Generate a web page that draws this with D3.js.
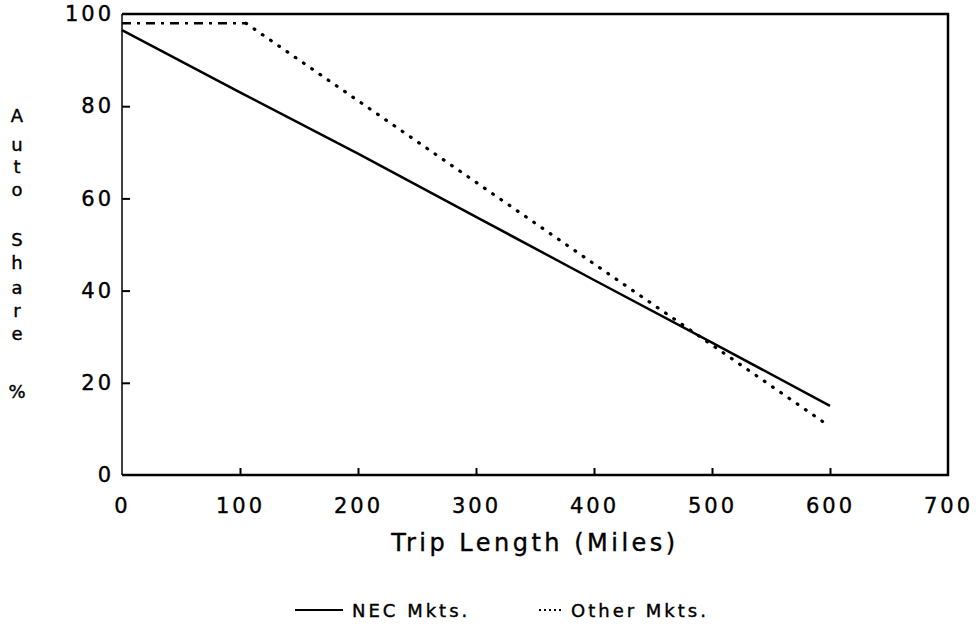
<!DOCTYPE html>
<html>
<head>
<meta charset="utf-8">
<script src="https://cdn.jsdelivr.net/npm/d3@7"></script>
<style>
  body { margin: 0; background: #fff; }
  text { font-family: "DejaVu Sans", sans-serif; fill: #000; stroke: #000; stroke-width: 0.4px; }
  .tick line { stroke: #000; stroke-width: 2; }
</style>
</head>
<body>
<svg id="chart" width="976" height="629"></svg>
<script>
// trip length (miles) for each read point
var miles = [0, 100, 200, 300, 400, 500, 600];
// auto share %, NEC markets
var necShare = [96.5, 83, 69.7, 56, 42.3, 28.7, 15];
// other markets: flat to ~105 miles, then falls
var otherMiles = [0, 105, 200, 300, 400, 500, 600];
var otherShare = [98, 98, 81.2, 63.5, 45.8, 28.2, 10.5];
var xTicks = [0, 100, 200, 300, 400, 500, 600, 700];
var yTicks = [0, 20, 40, 60, 80, 100];
var yTitle = ["A", "u", "t", "o", "", "S", "h", "a", "r", "e", "", "%"];

var svg = d3.select("#chart"),
    x = d3.scaleLinear().domain([0, 700]).range([122, 948]),
    y = d3.scaleLinear().domain([0, 100]).range([475, 14]);

// axes (ticks point inward like the original plot)
var xAxis = d3.axisBottom(x).tickValues(xTicks).tickSizeInner(-7).tickSizeOuter(0).tickPadding(23);
var yAxis = d3.axisLeft(y).tickValues(yTicks).tickSizeInner(-8).tickSizeOuter(0).tickPadding(8);

var gx = svg.append("g").attr("transform", "translate(0," + y(0) + ")").call(xAxis);
var gy = svg.append("g").attr("transform", "translate(" + x(0) + ",0)").call(yAxis);
[gx, gy].forEach(function (g) {
    g.select(".domain").remove();
    g.selectAll("text").style("font-size", "21px").style("letter-spacing", "3px").attr("fill", "#000");
});
gy.selectAll(".tick").filter(function (d) { return d == 0 || d == 100; }).select("line").remove();
gx.selectAll(".tick").filter(function (d) { return d == 0 || d == 700; }).select("line").remove();

// frame
svg.append("path")
    .attr("d", "M" + x(0) + "," + y(100) + "H" + x(700) + "V" + y(0) + "H" + x(0))
    .attr("fill", "none").attr("stroke", "#000").attr("stroke-width", 2.5);
svg.append("line")
    .attr("x1", x(0)).attr("x2", x(0)).attr("y1", y(100)).attr("y2", y(0))
    .attr("stroke", "#000").attr("stroke-width", 1.5);

// series
var line = d3.line().x(function (d) { return x(d[0]); }).y(function (d) { return y(d[1]); });
var nec = miles.map(function (m, i) { return [m, necShare[i]]; });
var other = otherMiles.map(function (m, i) { return [m, otherShare[i]]; });

svg.append("path").datum(nec).attr("d", line)
    .attr("fill", "none").attr("stroke", "#000").attr("stroke-width", 2.5);

// flat part of other markets drawn dash-dot, sloped part dotted
svg.append("path").datum(other.filter(function (d) { return d[0] <= 105; })).attr("d", line)
    .attr("fill", "none").attr("stroke", "#000").attr("stroke-width", 2.5)
    .attr("stroke-dasharray", "9,6,3,6");
svg.append("path").datum(other.filter(function (d) { return d[0] >= 105; })).attr("d", line)
    .attr("fill", "none").attr("stroke", "#000").attr("stroke-width", 3.2)
    .attr("stroke-linecap", "round").attr("stroke-dasharray", "0.8,9.2");

// axis titles
svg.append("text").attr("x", 535).attr("y", 551).attr("text-anchor", "middle")
    .style("font-size", "24px").style("letter-spacing", "3.5px").text("Trip Length (Miles)");

var yPos = [116, 145, 167, 190, 0, 240, 263, 288, 311, 334, 0, 392];
svg.append("g").selectAll("text").data(yTitle).enter().append("text")
    .attr("x", 17).attr("y", function (d, i) { return yPos[i]; })
    .attr("dy", "0.35em").attr("text-anchor", "middle")
    .style("font-size", "18px").text(function (d) { return d; });

// legend
var lg = svg.append("g").attr("transform", "translate(0,610)");
lg.append("line").attr("x1", 295).attr("x2", 343).attr("y1", 0).attr("y2", 0)
    .attr("stroke", "#000").attr("stroke-width", 2);
lg.append("text").attr("x", 352).attr("y", 7).style("font-size", "18px")
    .style("letter-spacing", "3px").text("NEC Mkts.");
lg.append("line").attr("x1", 539).attr("x2", 563).attr("y1", 0).attr("y2", 0)
    .attr("stroke", "#000").attr("stroke-width", 2).attr("stroke-dasharray", "2,3");
lg.append("text").attr("x", 571).attr("y", 7).style("font-size", "18px")
    .style("letter-spacing", "3px").text("Other Mkts.");
</script>
</body>
</html>
